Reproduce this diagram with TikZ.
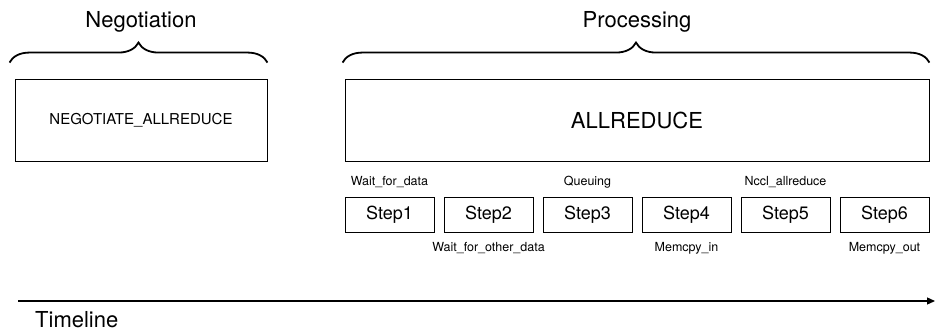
\documentclass[tikz,border=0pt]{standalone}
\usepackage{fontspec}
\setmainfont{TeX Gyre Heros}
\usetikzlibrary{positioning,decorations.pathreplacing,arrows.meta}

\begin{document}
\begin{tikzpicture}[x=1pt,y=-1pt,
	box/.style={draw,line width=0.9pt,inner sep=0pt},
	stepbox/.style={box,minimum width=89pt,minimum height=35pt,font=\fontsize{18}{20}\selectfont},
	lbl/.style={inner sep=0pt,text height=9pt,text depth=2.5pt,font=\fontsize{12.5}{14}\selectfont},
	hdr/.style={inner sep=0pt,font=\fontsize{22}{26}\selectfont},
	curly/.style={decorate,decoration={brace,amplitude=20pt},line width=1.8pt}]
		\useasboundingbox (0,0) rectangle (936,331);
		\node [box,minimum width=252pt,minimum height=82pt,font=\fontsize{15}{18}\selectfont] (nego) at (141,120) {NEGOTIATE\_ALLREDUCE};
		\node [box,minimum width=584pt,minimum height=82pt,font=\fontsize{22}{26}\selectfont] (proc) at (637,120) {ALLREDUCE};
		\node [hdr,anchor=base] (negotitle) at (141,28) {Negotiation};
		\node [hdr,anchor=base] (proctitle) at (637,28) {Processing};
		\draw [curly] ([xshift=-5pt,yshift=16pt]nego.north west) -- ([yshift=16pt]nego.north east);
		\draw [curly] ([xshift=-2pt,yshift=16pt]proc.north west) -- ([yshift=16pt]proc.north east);
		
		\node [stepbox] (s1) at (389.5,214.5) {Step1};
		\node [stepbox] (s2) at (488.5,214.5) {Step2};
		\node [stepbox] (s3) at (587.5,214.5) {Step3};
		\node [stepbox] (s4) at (686.5,214.5) {Step4};
		\node [stepbox] (s5) at (785.5,214.5) {Step5};
		\node [stepbox] (s6) at (884.5,214.5) {Step6};
		\node [lbl,above=8pt of s1] (wait) {Wait\_for\_data};
		\node [lbl,below=10pt of s2] (waitother) {Wait\_for\_other\_data};
		\node [lbl,above=8pt of s3] (queue) {Queuing};
		\node [lbl,below=10pt of s4] (memin) {Memcpy\_in};
		\node [lbl,above=8pt of s5] (nccl) {Nccl\_allreduce};
		\node [lbl,below=10pt of s6] (memout) {Memcpy\_out};
		
		\coordinate (tstart) at (18,301);
		\coordinate (tend) at (935,301);
		\draw [-{Triangle[length=8pt,width=7pt]},line width=1.2pt] (tstart) -- (tend);
		\node [hdr,anchor=base west] (timeline) at (35,327) {Timeline};
\end{tikzpicture}
\end{document}
